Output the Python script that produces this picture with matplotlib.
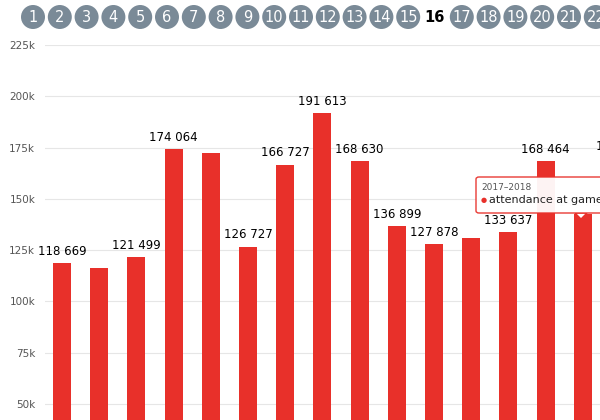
import matplotlib
matplotlib.use("Agg")
import matplotlib.pyplot as plt
from matplotlib.patches import FancyBboxPatch, Circle, Polygon

values = [118669, 116500, 121499, 174064, 172500, 126727, 166727, 191613,
          168630, 136899, 127878, 131000, 133637, 168464, 142728, 170000]
labels = ["118 669", "", "121 499", "174 064", "", "126 727", "166 727", "191 613",
          "168 630", "136 899", "127 878", "", "133 637", "168 464", "142 728", "170 000"]
yticks = [50000, 75000, 100000, 125000, 150000, 175000, 200000, 225000]
ytick_labels = ["50k", "75k", "100k", "125k", "150k", "175k", "200k", "225k"]
timeline = [str(i) for i in range(1, 23)]
active = "16"

W, H = 600, 420
fig = plt.figure(figsize=(6, 4.2), dpi=100)
ax = fig.add_axes([45 / W, 0, 555 / W, (420 - 45) / H])
step = 37.2
ax.set_xlim((45 - 62) / step, (600 - 62) / step)
ax.set_ylim(50000 - 16 / 51.2 * 25000, 225000)
xs = list(range(len(values)))
ax.bar(xs, values, width=18 / step, color="#e8302a", zorder=2)
for x, v, l in zip(xs, values, labels):
    if not l:
        continue
    c = "#cccccc" if x == 14 else "black"
    ax.text(x, v + 2500, l, ha="center", va="bottom", fontsize=8.5, color=c, zorder=3, clip_on=False)
ax.set_yticks(yticks)
ax.set_yticklabels(ytick_labels, fontsize=7.5, color="#555555")
ax.tick_params(axis="y", length=0, pad=7)
ax.set_xticks([])
ax.grid(axis="y", color="#e6e6e6", linewidth=0.8, zorder=0)
for s in ax.spines.values():
    s.set_visible(False)

# tooltip (pixel coords)
def fx(px): return px / W
def fy(py): return 1 - py / H
box = FancyBboxPatch((fx(476), fy(213)), fx(640) - fx(476), fy(177) - fy(213),
                     boxstyle="round,pad=0,rounding_size=0.005", transform=fig.transFigure,
                     facecolor="white", edgecolor="#e8302a", linewidth=1, alpha=0.95, zorder=10)
fig.add_artist(box)
tri = Polygon([(fx(575), fy(213)), (fx(587), fy(213)), (fx(581), fy(219))], closed=True,
              transform=fig.transFigure, facecolor="white", edgecolor="#e8302a", linewidth=1, zorder=9)
fig.add_artist(tri)
fig.text(fx(481), fy(188), "2017–2018", fontsize=6.5, color="#555555", va="center", zorder=11)
fig.text(fx(481), fy(200), "●", fontsize=5, color="#e8302a", va="center", zorder=11)
fig.text(fx(489), fy(200), "attendance at games in", fontsize=8, color="#222222", va="center", zorder=11)

# timeline circles
for i, t in enumerate(timeline):
    cx = 33 + 26.8 * i
    if t == active:
        fig.text(fx(cx), fy(17), t, fontsize=10.5, fontweight="bold", ha="center", va="center", color="black")
    else:
        fig.add_artist(Circle((cx, H - 17), 12, transform=None, facecolor="#7a8a97", edgecolor="none"))
        fig.text(fx(cx), fy(17), t, fontsize=10.5, ha="center", va="center", color="white")

fig.savefig("out.png", dpi=100)
